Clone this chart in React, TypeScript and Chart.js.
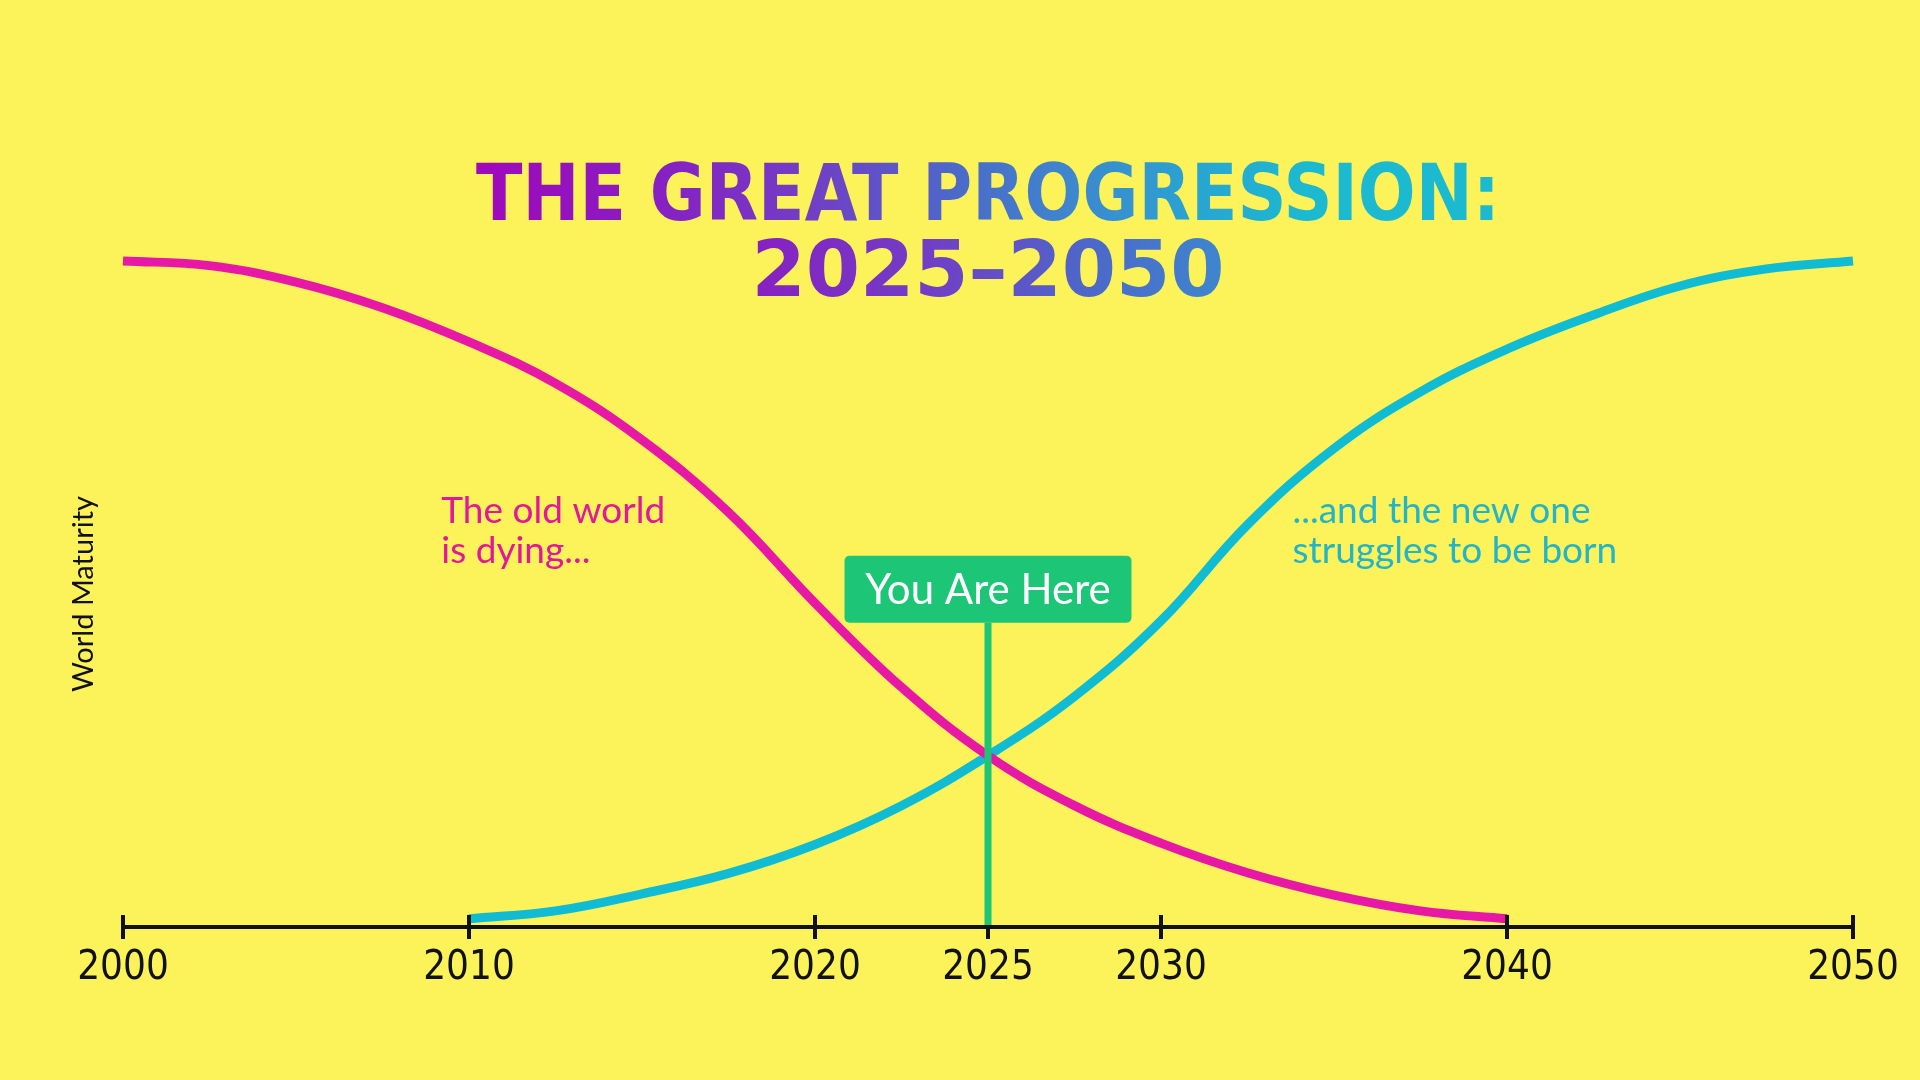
import { useEffect, useRef } from 'react'
import { Chart, Plugin } from 'chart.js/auto'

// x axis ticks (years)
const tickYears = [2000, 2010, 2020, 2025, 2030, 2040, 2050]

// "old world" curve (0 = axis, 100 = top)
const oldYears = [2000, 2002.5, 2005, 2007.5, 2010, 2012.5, 2015, 2017.5, 2020, 2022.5, 2025, 2027.5, 2030, 2032.5, 2035, 2037.5, 2040]
const oldValues = [100, 99.3, 96.8, 92.9, 87.7, 81.4, 72.8, 61.8, 48, 35.2, 24.8, 17.2, 11.5, 7, 3.6, 1.2, 0]

// "new world" curve
const newYears = [2010, 2012.5, 2015, 2017.5, 2020, 2022.5, 2025, 2027.5, 2030, 2032.5, 2035, 2037.5, 2040, 2042.5, 2045, 2047.5, 2050]
const newValues = [0, 1.2, 3.8, 6.9, 11.3, 17.2, 24.8, 33.8, 45.3, 59.9, 71.5, 80.1, 86.6, 91.8, 96.2, 98.8, 100]

const markerYear = 2025
const markerLabel = 'You Are Here'
const titleLines = ['THE GREAT PROGRESSION:', '2025–2050']

const notes = [
  { lines: ['The old world', 'is dying...'], year: 2009.2, level: 60.2, color: '#e2189b' },
  { lines: ['...and the new one', 'struggles to be born'], year: 2033.8, level: 60.2, color: '#22b4c9' },
]

const BG = '#fcf35b'
const PINK = '#e818a6'
const CYAN = '#10bcd4'
const GREEN = '#1dc676'
const INK = '#111111'
const TICK_FONT = '"DejaVu Sans Condensed", "Liberation Sans Narrow", "DejaVu Sans", sans-serif'

const overlay: Plugin<'line'> = {
  id: 'overlay',
  afterDatasetsDraw(chart) {
    const { ctx, chartArea, scales } = chart
    const x = scales.x
    const y = scales.y
    ctx.save()

    // tick marks crossing the axis
    const axisY = x.top
    ctx.strokeStyle = INK
    ctx.lineWidth = 4
    for (const t of x.ticks) {
      const px = x.getPixelForValue(t.value)
      ctx.beginPath()
      ctx.moveTo(px, axisY - 12)
      ctx.lineTo(px, axisY + 12)
      ctx.stroke()
    }

    // "you are here" marker
    const mx = x.getPixelForValue(markerYear)
    const boxBottom = y.getPixelForValue(45)
    const boxW = 287
    const boxH = 67
    ctx.strokeStyle = GREEN
    ctx.lineWidth = 7
    ctx.beginPath()
    ctx.moveTo(mx, axisY - 2)
    ctx.lineTo(mx, boxBottom)
    ctx.stroke()
    ctx.fillStyle = GREEN
    ctx.beginPath()
    ctx.roundRect(mx - boxW / 2, boxBottom - boxH, boxW, boxH, 5)
    ctx.fill()
    ctx.fillStyle = '#ffffff'
    ctx.font = '42px Lato, "Noto Sans", sans-serif'
    ctx.textAlign = 'center'
    ctx.textBaseline = 'middle'
    ctx.fillText(markerLabel, mx, boxBottom - boxH / 2 + 1)

    // notes
    ctx.textAlign = 'left'
    ctx.textBaseline = 'alphabetic'
    ctx.font = '37px Lato, "Noto Sans", sans-serif'
    for (const n of notes) {
      ctx.fillStyle = n.color
      const nx = x.getPixelForValue(n.year)
      const ny = y.getPixelForValue(n.level)
      n.lines.forEach((line, i) => ctx.fillText(line, nx, ny + i * 40))
    }

    // title with gradient, centred over the plot
    const cx = (chartArea.left + chartArea.right) / 2
    const grad = ctx.createLinearGradient(cx - 512, 0, cx + 512, 0)
    grad.addColorStop(0, '#a800b8')
    grad.addColorStop(0.25, '#8a1cc2')
    grad.addColorStop(0.45, '#7040c6')
    grad.addColorStop(0.6, '#4c68ca')
    grad.addColorStop(0.73, '#3e86ce')
    grad.addColorStop(0.88, '#28a6d2')
    grad.addColorStop(1, '#1cbad0')
    ctx.fillStyle = grad
    ctx.textAlign = 'center'
    ctx.font = 'bold 78px "DejaVu Sans", sans-serif'
    ctx.fillText(titleLines[0], cx, 220, 1024)
    ctx.fillText(titleLines[1], cx, 296)

    ctx.restore()
  },
}

export default function App() {
  const canvasRef = useRef<HTMLCanvasElement | null>(null)
  const chartRef = useRef<Chart | null>(null)

  useEffect(() => {
    document.body.style.margin = '0'
    const ctx = canvasRef.current?.getContext('2d')
    if (!ctx) return

    chartRef.current = new Chart(ctx, {
      type: 'line',
      data: {
        datasets: [
          {
            label: 'Old world',
            data: oldYears.map((yr, i) => ({ x: yr, y: oldValues[i] })),
            borderColor: PINK,
            borderWidth: 9,
            pointRadius: 0,
            tension: 0.4,
            fill: false,
            clip: false,
          },
          {
            label: 'New world',
            data: newYears.map((yr, i) => ({ x: yr, y: newValues[i] })),
            borderColor: CYAN,
            borderWidth: 9,
            pointRadius: 0,
            tension: 0.4,
            fill: false,
            clip: false,
          },
        ],
      },
      options: {
        animation: false,
        responsive: true,
        maintainAspectRatio: false,
        layout: { padding: { top: 261, left: 66, right: 67, bottom: 73 } },
        plugins: {
          legend: { display: false },
          tooltip: { enabled: false },
        },
        scales: {
          x: {
            type: 'linear',
            min: 2000,
            max: 2050,
            afterBuildTicks: (s) => {
              s.ticks = tickYears.map((v) => ({ value: v }))
            },
            afterFit: (s) => {
              s.height = 80
            },
            grid: { display: false, drawTicks: false },
            border: { display: true, color: INK, width: 4 },
            ticks: {
              color: INK,
              padding: 18,
              maxRotation: 0,
              autoSkip: false,
              font: { family: TICK_FONT, size: 40 },
              callback: (v) => String(v),
            },
          },
          y: {
            min: -1.25,
            max: 100,
            afterFit: (s) => {
              s.width = 57
            },
            grid: { display: false, drawTicks: false },
            border: { display: false },
            ticks: { display: false },
            title: {
              display: true,
              text: 'World Maturity',
              color: INK,
              padding: 0,
              font: { family: 'Lato, "Noto Sans", sans-serif', size: 29 },
            },
          },
        },
      },
      plugins: [overlay],
    })

    return () => {
      chartRef.current?.destroy()
      chartRef.current = null
    }
  }, [])

  return (
    <div style={{ width: 1920, height: 1080, position: 'relative', background: BG }}>
      <canvas ref={canvasRef} />
    </div>
  )
}
